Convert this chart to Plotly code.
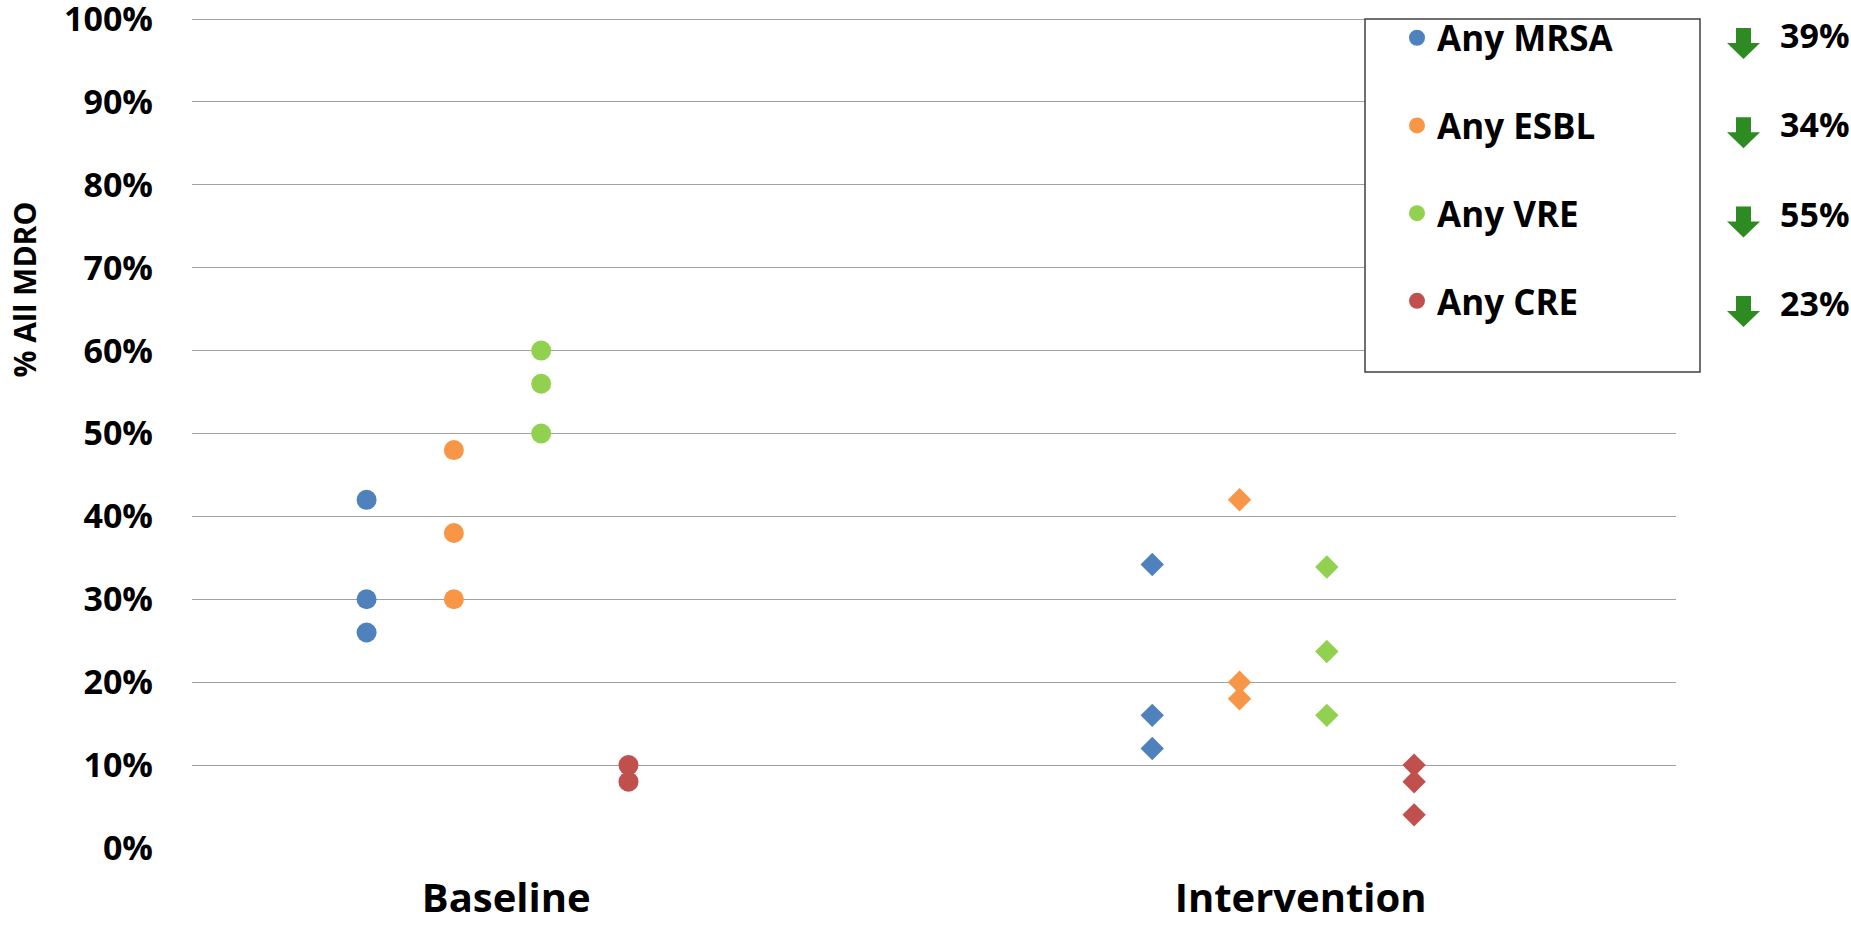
import plotly.graph_objects as go

# ---------------- data ----------------
SERIES = ["Any MRSA", "Any ESBL", "Any VRE", "Any CRE"]
COLORS = ["#4F81BD", "#F79646", "#92D050", "#C0504D"]
CATEGORIES = ["Baseline", "Intervention"]
CATEGORY_POS = [2.6, 11.7]

BASELINE_X = [1, 2, 3, 4]
INTERVENTION_X = [10, 11, 12, 13]

baseline_mrsa = [0.42, 0.30, 0.26]
baseline_esbl = [0.48, 0.38, 0.30]
baseline_vre = [0.60, 0.56, 0.50]
baseline_cre = [0.10, 0.08]

intervention_mrsa = [0.342, 0.16, 0.12]
intervention_esbl = [0.42, 0.20, 0.18]
intervention_vre = [0.339, 0.237, 0.16]
intervention_cre = [0.10, 0.08, 0.04]

REDUCTIONS = ["39%", "34%", "55%", "23%"]
Y_TICKS = [0.0, 0.1, 0.2, 0.3, 0.4, 0.5, 0.6, 0.7, 0.8, 0.9, 1.0]
Y_TICK_LABELS = ["0%", "10%", "20%", "30%", "40%", "50%", "60%", "70%", "80%", "90%", "100%"]

BASELINE = [baseline_mrsa, baseline_esbl, baseline_vre, baseline_cre]
INTERVENTION = [intervention_mrsa, intervention_esbl, intervention_vre, intervention_cre]

# ---------------- layout geometry (pixels) ----------------
W, H = 1851, 925
L, R, T, B = 192, 175, 9, 77
PW, PH = W - L - R, H - T - B
Y_TOP = 1.0 + (19 - T) / (H - B - 19)  # so that 100% sits at pixel row 19


def px(x):
    return (x - L) / PW


def py(y):
    return (H - B - y) / PH


BOLD = "Open Sans"

fig = go.Figure()
for i, name in enumerate(SERIES):
    vals = BASELINE[i]
    fig.add_trace(go.Scatter(
        x=[BASELINE_X[i]] * len(vals), y=vals, mode="markers", name=name,
        legendgroup=name,
        marker=dict(symbol="circle", size=20, color=COLORS[i]),
        cliponaxis=False,
    ))
for i, name in enumerate(SERIES):
    vals = INTERVENTION[i]
    fig.add_trace(go.Scatter(
        x=[INTERVENTION_X[i]] * len(vals), y=vals, mode="markers", name=name,
        legendgroup=name, showlegend=False,
        marker=dict(symbol="diamond", size=18, color=COLORS[i]),
        cliponaxis=False,
    ))

shapes = []
# legend box
shapes.append(dict(type="rect", xref="paper", yref="paper",
                   x0=px(1365), x1=px(1700), y0=py(372), y1=py(19),
                   fillcolor="white", line=dict(color="#404040", width=1.5),
                   layer="above"))

annotations = []
ROW0, ROWSTEP = 28, 89.3
for i, lab in enumerate(REDUCTIONS):
    top = ROW0 + i * ROWSTEP
    xl, xr, sl, sr = 1727, 1760, 1736, 1751
    mid = top + 15
    tip = top + 31
    path = (f"M {px(sl)},{py(top)} L {px(sr)},{py(top)} L {px(sr)},{py(mid)} "
            f"L {px(xr)},{py(mid)} L {px((xl + xr) / 2)},{py(tip)} L {px(xl)},{py(mid)} "
            f"L {px(sl)},{py(mid)} Z")
    shapes.append(dict(type="path", xref="paper", yref="paper", path=path,
                       fillcolor="#2E8B22", line=dict(width=0), layer="above"))
    annotations.append(dict(xref="paper", yref="paper", x=px(1778), y=py(top + 7),
                            xanchor="left", yanchor="middle", showarrow=False,
                            text=f"<b>{lab}</b>",
                            font=dict(family=BOLD, size=34, color="black")))

annotations.append(dict(xref="paper", yref="paper", x=px(24.5), y=py(290),
                        xanchor="center", yanchor="middle", showarrow=False,
                        textangle=-90, text="<b>% All MDRO</b>",
                        font=dict(family=BOLD, size=30, color="black")))

fig.update_layout(
    width=W, height=H,
    margin=dict(l=L, r=R, t=T, b=B, autoexpand=False),
    paper_bgcolor="white", plot_bgcolor="white",
    showlegend=True,
    legend=dict(x=px(1397), y=py(8.5), xanchor="left", yanchor="top",
                bgcolor="rgba(0,0,0,0)", borderwidth=0,
                font=dict(family=BOLD, size=35, color="black", weight="bold"),
                tracegroupgap=39.2, itemsizing="trace", traceorder="grouped"),
    shapes=shapes, annotations=annotations,
    xaxis=dict(range=[-1, 16], showgrid=False, zeroline=False, showline=False,
               tickvals=CATEGORY_POS, ticktext=[f"<b>{c}</b>" for c in CATEGORIES],
               ticks="", ticklabelstandoff=23,
               tickfont=dict(family=BOLD, size=40, color="black")),
    yaxis=dict(range=[0, Y_TOP], tickvals=Y_TICKS,
               ticktext=[f"<b>{t}</b>" for t in Y_TICK_LABELS],
               showgrid=True, gridcolor="#A0A0A0", gridwidth=1.3,
               zeroline=False, showline=False, ticks="", ticklabelstandoff=38,
               ticklabeloverflow="allow",
               tickfont=dict(family=BOLD, size=34, color="black")),
)

fig.write_html("out.html")
